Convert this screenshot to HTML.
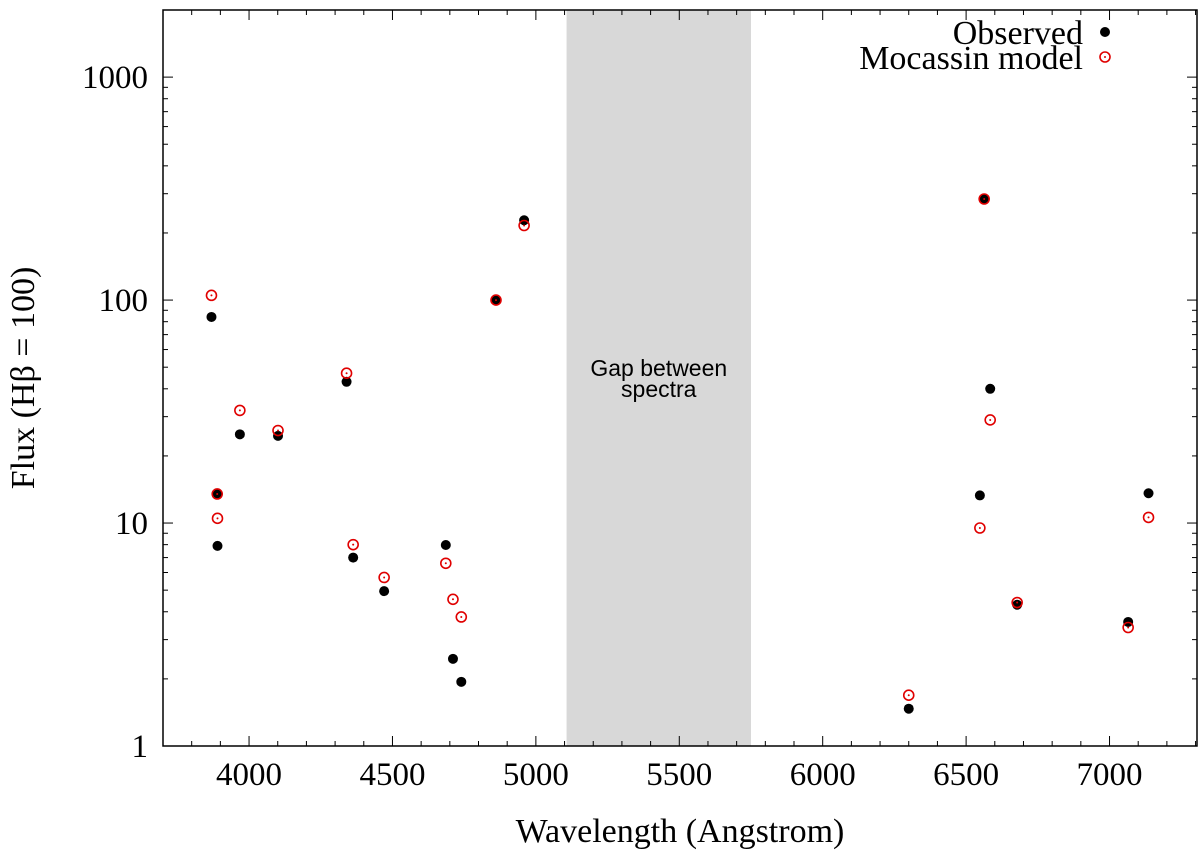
<!DOCTYPE html>
<html><head><meta charset="utf-8"><style>
body{margin:0;background:#fff;}
svg{display:block;}
text{font-family:"Liberation Serif",serif;fill:#000;}
</style></head><body>
<svg id="chart" width="1200" height="855" xmlns="http://www.w3.org/2000/svg"></svg>
<script>
const wavelengths=[3869,3889,3890,3968,4101,4340,4363,4471,4686,4711,4740,4861,4959,6300,6548,6563,6584,6678,7065,7136];
const observed=[84,13.5,7.9,25,24.6,43,7.0,4.95,7.97,2.46,1.94,100,228,1.47,13.3,284,40,4.3,3.6,13.6];
const model=[105,13.5,10.5,32,26,47,8.0,5.7,6.6,4.55,3.79,100,216,1.69,9.5,284,29,4.4,3.4,10.6];
const xTicks=[4000,4500,5000,5500,6000,6500,7000];
const yTicks=[1,10,100,1000];
const yTickLabels=["1","10","100","1000"];
const gapRange=[5107,5750];

const L=163,R=1197,T=10,B=746;
const xmin=3700,xmax=7305,ymin=1,ymax=2000;
const NS="http://www.w3.org/2000/svg";
const svg=document.getElementById('chart');
function X(v){return L+(v-xmin)/(xmax-xmin)*(R-L);}
function Y(v){return B-(Math.log10(v)-Math.log10(ymin))/(Math.log10(ymax)-Math.log10(ymin))*(B-T);}
function mk(tag,attrs,parent){const e=document.createElementNS(NS,tag);for(const k in attrs)e.setAttribute(k,attrs[k]);(parent||svg).appendChild(e);return e;}

const gap=mk('rect',{x:X(gapRange[0]),y:T,width:X(gapRange[1])-X(gapRange[0]),height:B-T,fill:'#d8d8d8'});


const gcx=(X(gapRange[0])+X(gapRange[1]))/2;
const gt=mk('text',{x:gcx,y:376,'text-anchor':'middle','font-size':'23',style:'font-family:"Liberation Sans",sans-serif'});


gt.innerHTML='<tspan x="'+gcx+'" dy="0">Gap between</tspan><tspan x="'+gcx+'" dy="21">spectra</tspan>';

const tg=mk('g',{stroke:'#000','stroke-width':1});


for(let v=3800;v<=7300;v+=100){
  const maj=v%500===0, len=maj?10:5, x=X(v);
  mk('line',{x1:x,y1:B,x2:x,y2:B-len},tg);
  mk('line',{x1:x,y1:T,x2:x,y2:T+len},tg);
}
for(let d=1;d<=1000;d*=10){
  for(let m=1;m<=9;m++){
    const v=d*m; if(v>ymax) break;
    const len=m===1?10:5, y=Y(v);
    mk('line',{x1:L,y1:y,x2:L+len,y2:y},tg);
    mk('line',{x1:R,y1:y,x2:R-len,y2:y},tg);
  }
}
xTicks.forEach(v=>{
  const t=mk('text',{x:X(v),y:785,'text-anchor':'middle','font-size':'33'});
  
  
  t.textContent=v;
});
yTicks.forEach((v,i)=>{
  const t=mk('text',{x:148,y:Y(v)+11,'text-anchor':'end','font-size':'33'});
  
  
  t.textContent=yTickLabels[i];
});
const frame=mk('rect',{x:L,y:T,width:R-L,height:B-T,fill:'none',stroke:'#000','stroke-width':1.5});



wavelengths.forEach((w,i)=>{
  const c=mk('circle',{cx:X(w),cy:Y(observed[i]),r:5,fill:'#000'});
  
  
});
wavelengths.forEach((w,i)=>{
  const g=mk('g',{});
  
  
  mk('circle',{cx:X(w),cy:Y(model[i]),r:5,fill:'none',stroke:'#e00000','stroke-width':1.6},g);
  mk('circle',{cx:X(w),cy:Y(model[i]),r:1,fill:'#e00000'},g);
});

const lg=mk('g',{});


const l1=mk('text',{x:1083,y:44,'text-anchor':'end','font-size':'34'},lg);


l1.textContent='Observed';
mk('circle',{cx:1105,cy:32,r:5,fill:'#000'},lg);
const l2=mk('text',{x:1083,y:69,'text-anchor':'end','font-size':'34'},lg);


l2.textContent='Mocassin model';
mk('circle',{cx:1105,cy:57,r:5,fill:'none',stroke:'#e00000','stroke-width':1.6},lg);
mk('circle',{cx:1105,cy:57,r:1,fill:'#e00000'},lg);

const xt=mk('text',{x:680,y:842,'text-anchor':'middle','font-size':'34'});


xt.textContent='Wavelength (Angstrom)';
const yt=mk('text',{x:0,y:0,'text-anchor':'middle','font-size':'34',transform:'translate(34,378) rotate(-90)'});


yt.textContent='Flux (Hβ = 100)';
</script>
</body></html>
